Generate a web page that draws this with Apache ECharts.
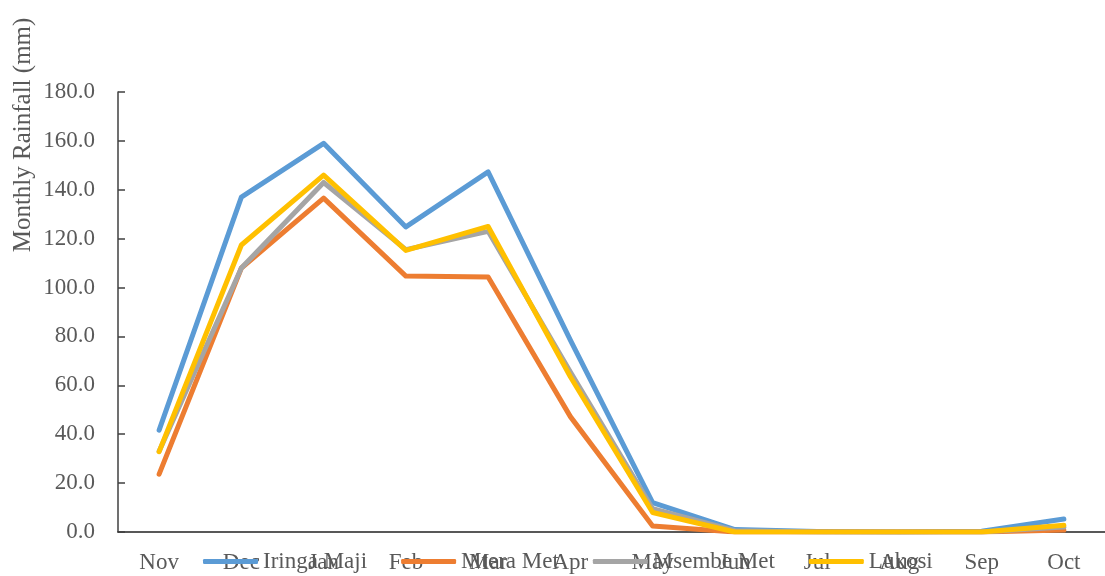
<!DOCTYPE html>
<html>
<head>
<meta charset="utf-8">
<script src="https://cdn.jsdelivr.net/npm/echarts@6/dist/echarts.min.js"></script>
<style>
  html, body { margin: 0; padding: 0; background: #fff; }
  #chart { width: 1105px; height: 576px; }
</style>
</head>
<body>
<div id="chart"></div>
<script>
// Monthly rainfall by station, hydrological year Nov–Oct
const months = ['Nov', 'Dec', 'Jan', 'Feb', 'Mar', 'Apr', 'May', 'Jun', 'Jul', 'Aug', 'Sep', 'Oct'];
const iringaMaji = [41.7, 137.0, 159.0, 124.8, 147.3, 78.5, 12.0, 1.0, 0.2, 0.0, 0.3, 5.3];
const mteraMet   = [23.7, 108.0, 136.6, 104.7, 104.3, 47.2, 2.5, 0.0, 0.0, 0.0, 0.0, 0.8];
const msembeMet  = [33.0, 108.0, 143.0, 115.5, 123.0, 65.5, 9.5, 0.5, 0.0, 0.0, 0.0, 2.0];
const lukosi     = [32.9, 117.4, 146.0, 115.2, 125.0, 63.5, 8.0, 0.0, 0.0, 0.0, 0.0, 2.8];
const yTicks = { min: 0, max: 180, interval: 20 };

const font = 'Liberation Serif, Times New Roman, serif';
const textColor = '#595959';

function line(name, data, color) {
  return {
    name, type: 'line', data,
    symbol: 'none',
    lineStyle: { width: 5, color, cap: 'round', join: 'round' },
    itemStyle: { color }
  };
}

const chart = echarts.init(document.getElementById('chart'));
chart.setOption({
  animation: false,
  grid: { left: 118, top: 92, width: 990, height: 440 },
  xAxis: {
    type: 'category',
    data: months,
    boundaryGap: true,
    axisLine: { lineStyle: { color: '#222', width: 1.5 } },
    axisTick: { inside: true, length: 7, alignWithLabel: false, lineStyle: { color: '#222', width: 1.5 } },
    axisLabel: { color: textColor, fontFamily: font, fontSize: 23, margin: 19 }
  },
  yAxis: {
    type: 'value',
    min: yTicks.min, max: yTicks.max, interval: yTicks.interval,
    axisLine: { show: true, lineStyle: { color: '#404040', width: 1.5 } },
    axisTick: { show: true, inside: true, length: 7, lineStyle: { color: '#404040', width: 1.5 } },
    splitLine: { show: false },
    axisLabel: {
      color: textColor, fontFamily: font, fontSize: 23, margin: 23,
      formatter: v => v.toFixed(1)
    }
  },
  legend: {
    top: 545, left: 198,
    itemWidth: 55, itemHeight: 5, itemGap: 34,
    icon: 'roundRect',
    textStyle: { color: textColor, fontFamily: font, fontSize: 23 },
    data: ['Iringa Maji', 'Mtera Met', 'Msembe Met', 'Lukosi']
  },
  graphic: [{
    type: 'text',
    x: 23, y: 135,
    rotation: Math.PI / 2,
    style: {
      text: 'Monthly Rainfall (mm)',
      fill: textColor, font: '25px ' + font,
      align: 'center', verticalAlign: 'middle'
    }
  }],
  series: [
    line('Iringa Maji', iringaMaji, '#5B9BD5'),
    line('Mtera Met', mteraMet, '#ED7D31'),
    line('Msembe Met', msembeMet, '#A5A5A5'),
    line('Lukosi', lukosi, '#FFC000')
  ]
});
</script>
</body>
</html>
